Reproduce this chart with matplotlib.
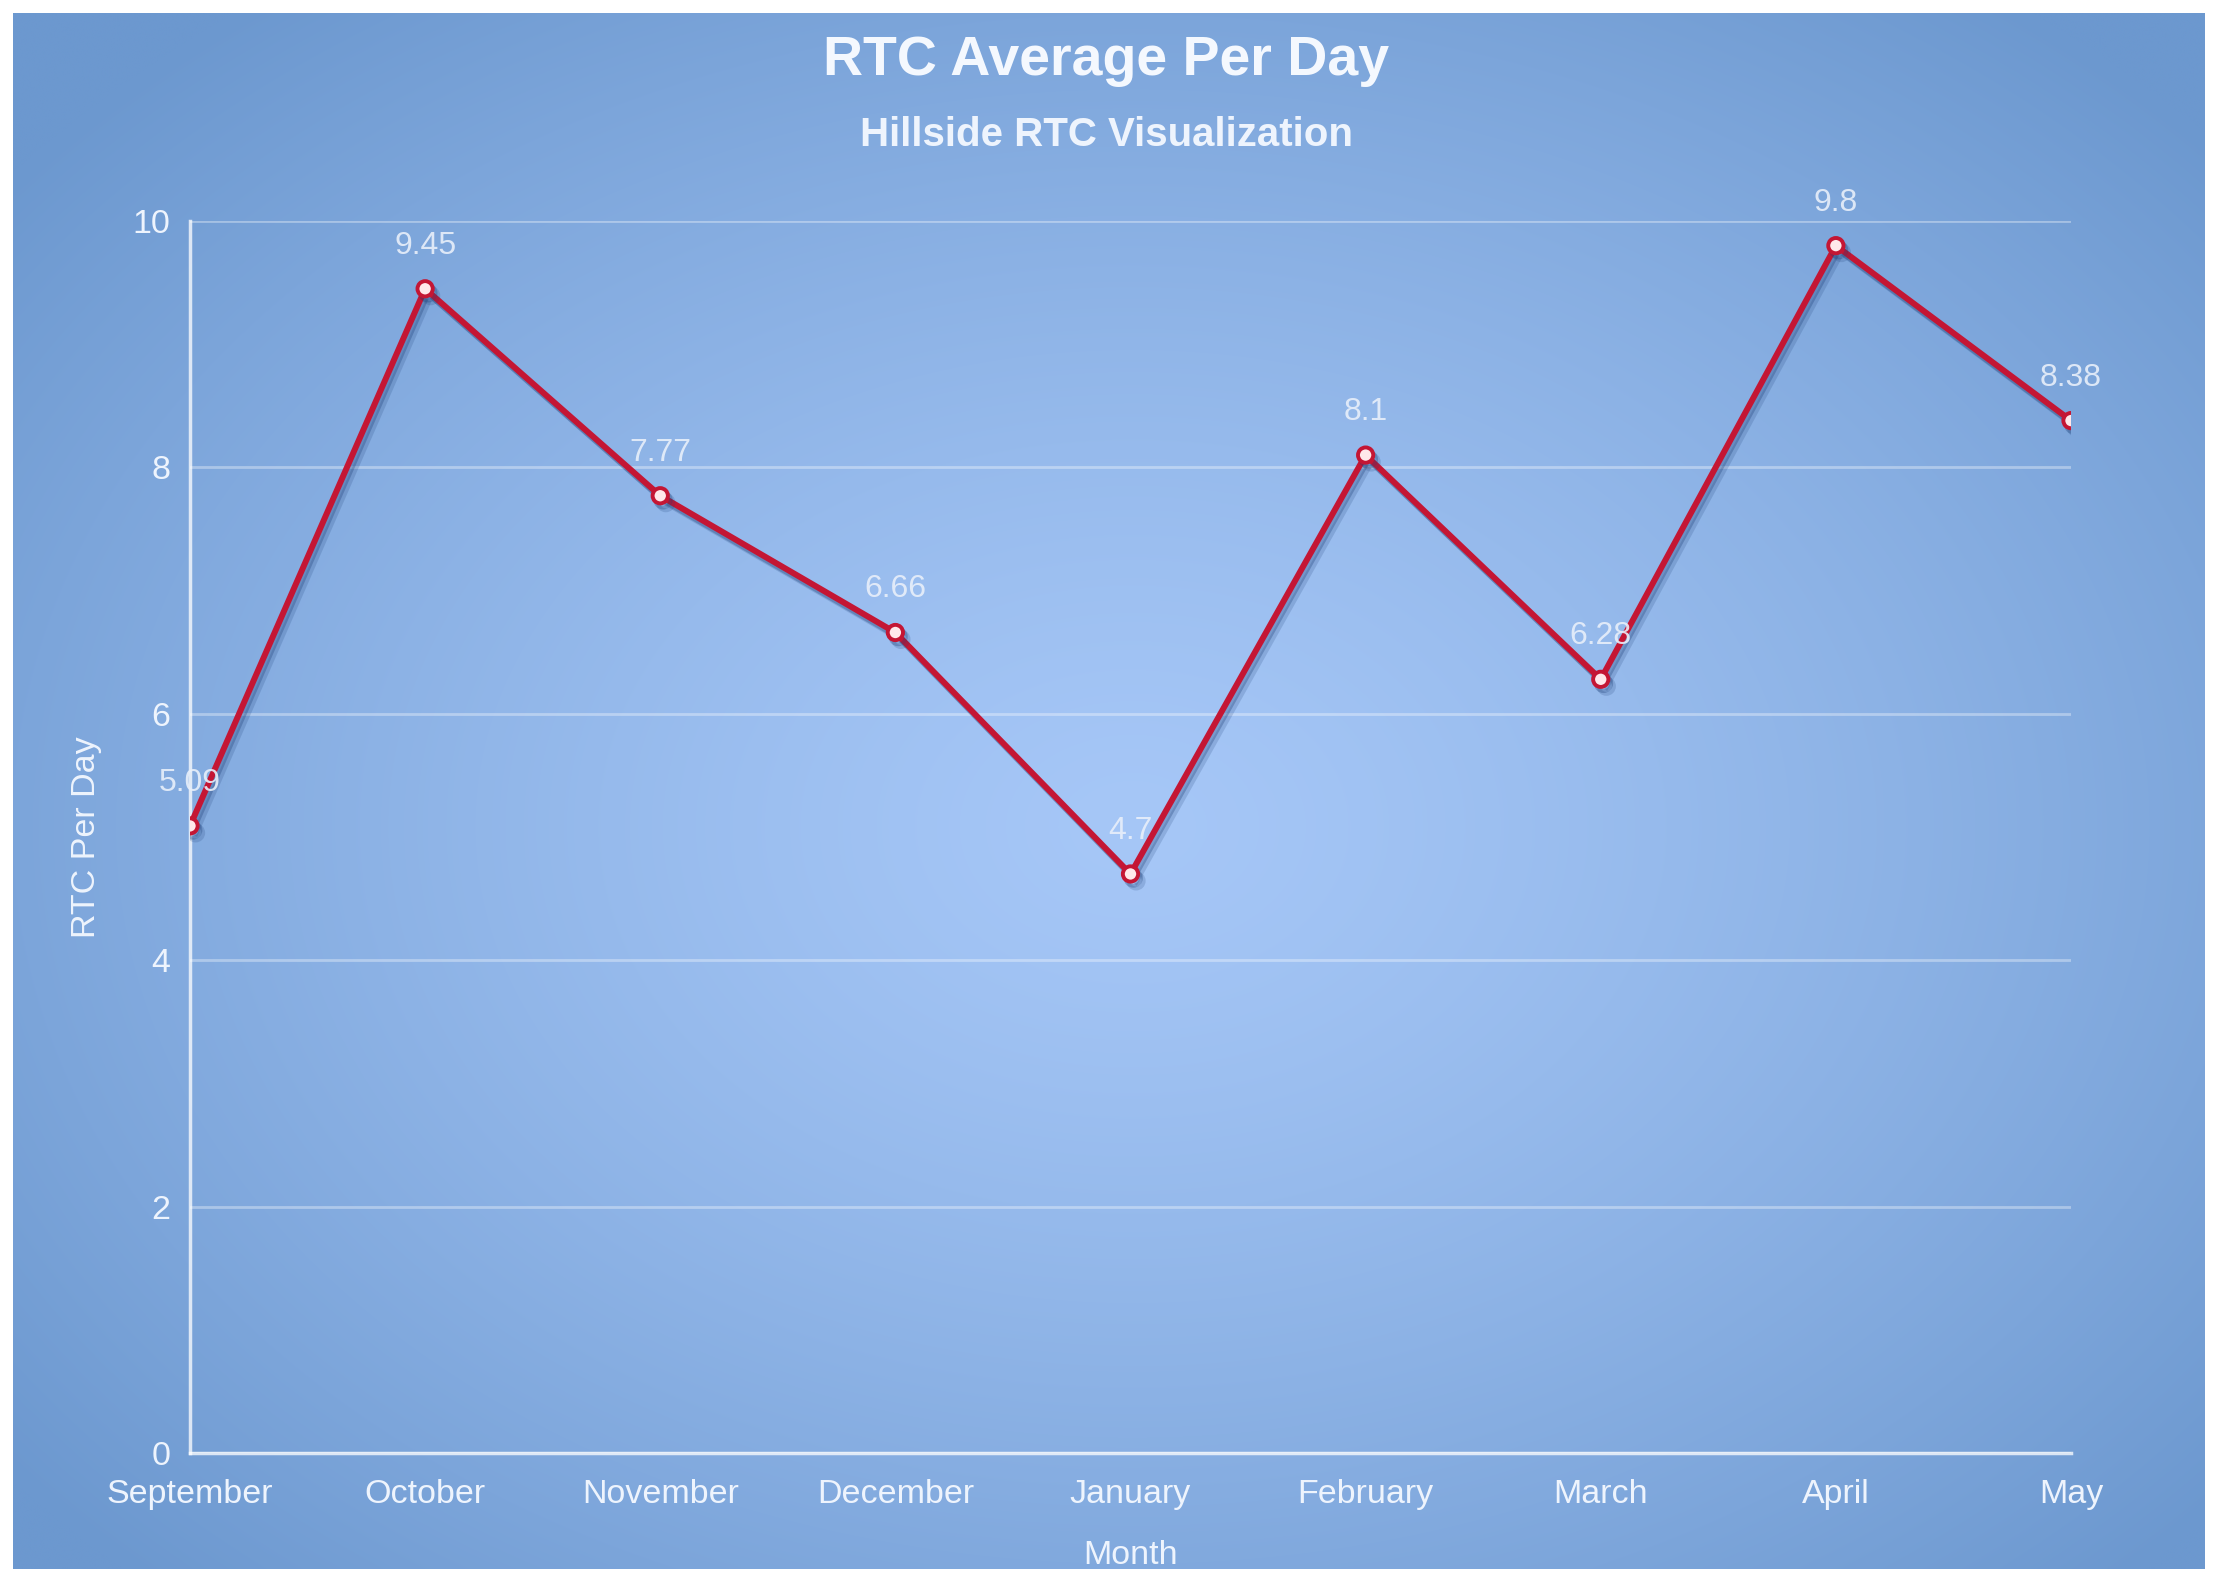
import numpy as np
import matplotlib
matplotlib.use("Agg")
import matplotlib.pyplot as plt
import matplotlib.patheffects as pe

months = ["September", "October", "November", "December", "January",
          "February", "March", "April", "May"]
rtc_per_day = [5.09, 9.45, 7.77, 6.66, 4.7, 8.1, 6.28, 9.8, 8.38]
value_labels = ["5.09", "9.45", "7.77", "6.66", "4.7", "8.1", "6.28", "9.8", "8.38"]
y_ticks = [0, 2, 4, 6, 8, 10]

plt.rcParams['font.family'] = ['Liberation Sans', 'DejaVu Sans']

W, H = 2213, 1569
fig = plt.figure(figsize=(W / 100, H / 100), dpi=100, facecolor='white')

# radial blue background
bg = fig.add_axes([13 / W, 0, (2205 - 13) / W, (H - 13) / H])
yy, xx = np.mgrid[0:H, 0:W]
d = np.sqrt(((xx - 1130) / 1450.0) ** 2 + ((yy - 820) / 1050.0) ** 2)
t = np.clip(d, 0, 1) ** 1.3
c_in = np.array([166, 199, 247]) / 255.0
c_out = np.array([108, 152, 207]) / 255.0
img = c_in[None, None, :] + (c_out - c_in)[None, None, :] * t[:, :, None]
bg.imshow(img, aspect='auto', extent=[0, 1, 0, 1], origin='upper')
bg.set_axis_off()

ax = fig.add_axes([190 / W, 116 / H, 1881 / W, 1232 / H])
ax.patch.set_alpha(0)

txt = '#eef4fd'
ax.plot(range(len(months)), rtc_per_day, color='#c41634', lw=4.3,
        marker='o', ms=11, mfc='#ffe8ea', mec='#c41634', mew=2.8,
        solid_joinstyle='miter', zorder=5,
        path_effects=[pe.SimpleLineShadow(offset=(4, -5), shadow_color='#1c3d75', alpha=0.18),
                      pe.SimpleLineShadow(offset=(2, -3), shadow_color='#1c3d75', alpha=0.3),
                      pe.Normal()])

for i, (v, lab) in enumerate(zip(rtc_per_day, value_labels)):
    ax.annotate(lab, (i, v), xytext=(0, 43), textcoords='offset pixels',
                ha='center', va='center', fontsize=23, color='#e8effa', alpha=0.9, zorder=6)

ax.set_xlim(0, len(months) - 1)
ax.set_ylim(0, 10)
ax.set_xticks(range(len(months)))
ax.set_xticklabels(months)
ax.set_yticks(y_ticks)
ax.tick_params(length=0, labelsize=24.5, labelcolor=txt)
ax.tick_params(axis='x', pad=19)
ax.tick_params(axis='y', pad=14)

ax.grid(axis='y', color='white', alpha=0.35, lw=2)
ax.set_axisbelow(True)
for s in ['top', 'right']:
    ax.spines[s].set_visible(False)
for s in ['left', 'bottom']:
    ax.spines[s].set_color('white')
    ax.spines[s].set_alpha(0.75)
    ax.spines[s].set_linewidth(2.5)

ax.set_xlabel("Month", fontsize=24.5, color=txt)
ax.xaxis.set_label_coords(0.5, -(1556 - 1453) / 1232)
ax.xaxis.label.set_va('center')
ax.set_ylabel("RTC Per Day", fontsize=24.5, color=txt)
ax.yaxis.set_label_coords(-(190 - 87) / 1881, 0.5)
ax.yaxis.label.set_va('center')

fig.text(0.5, 1 - 75 / H, "RTC Average Per Day", ha='center', va='baseline',
         fontsize=40, fontweight='bold', color='#f4f8fe')
fig.text(0.5, 1 - 146 / H, "Hillside RTC Visualization", ha='center', va='baseline',
         fontsize=29, fontweight='bold', color='#eef4fd')

fig.savefig("out.png", dpi=100, facecolor='white')
